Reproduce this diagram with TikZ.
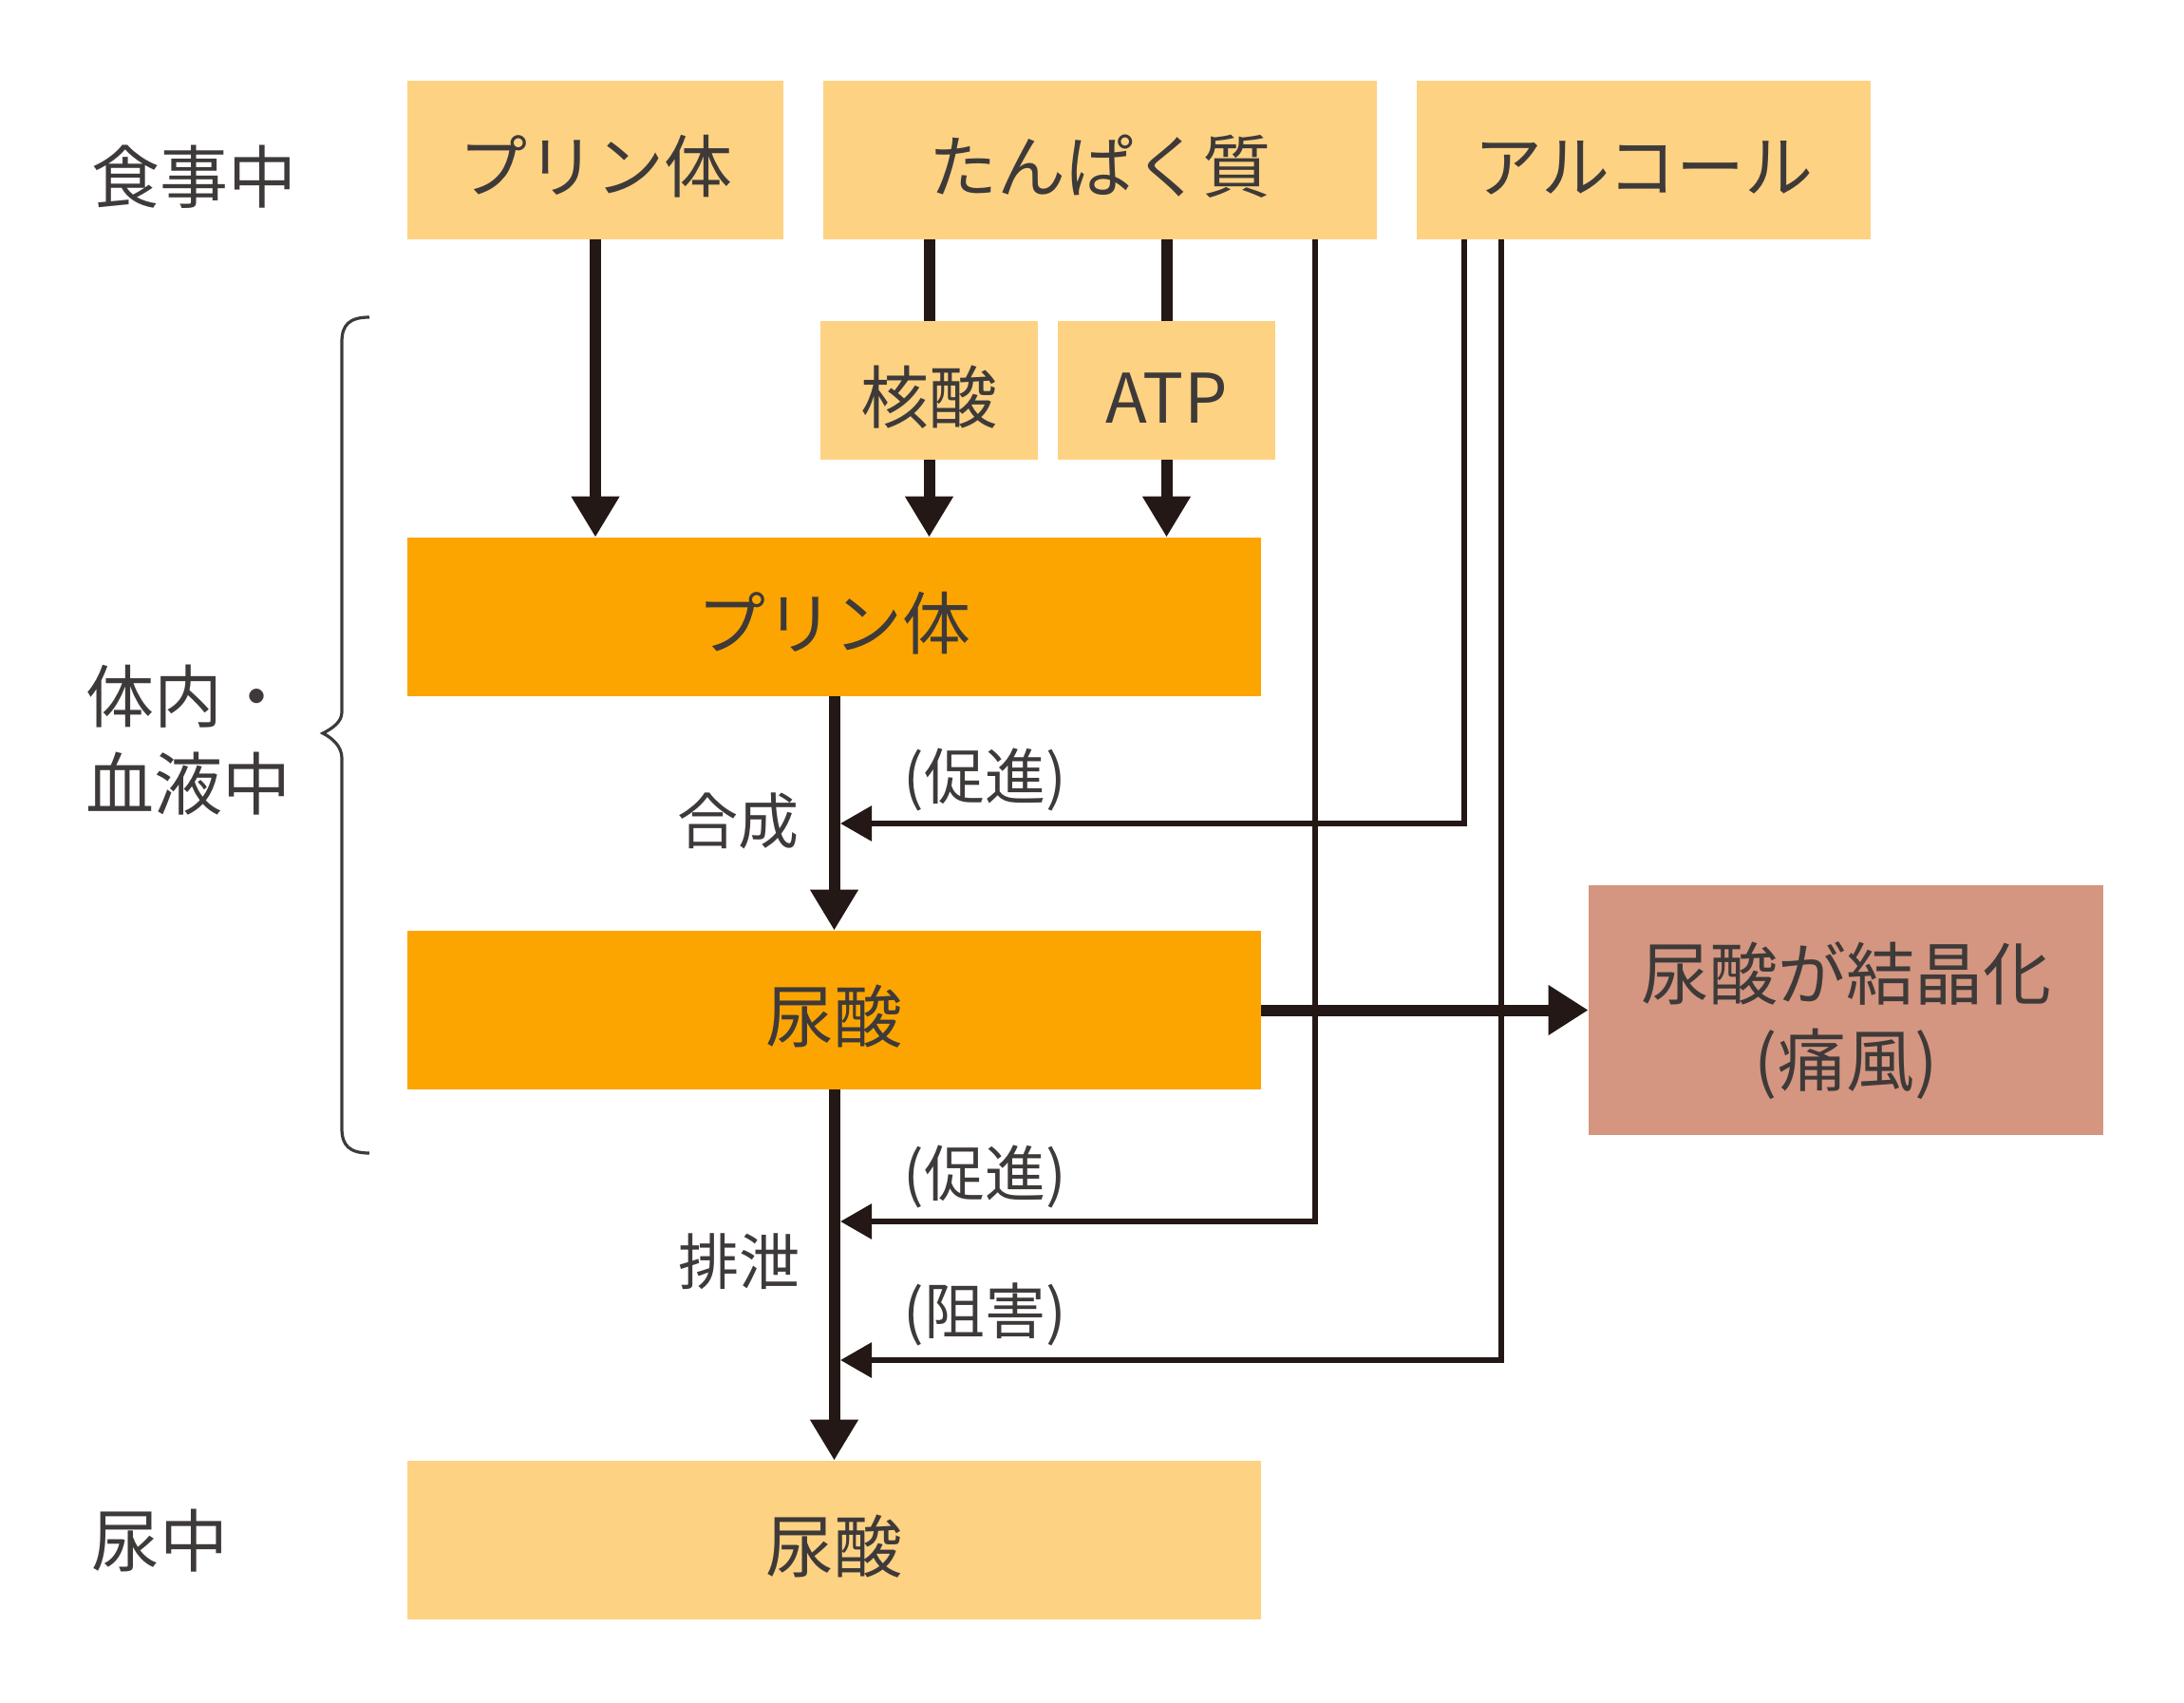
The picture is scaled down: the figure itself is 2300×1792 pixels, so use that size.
\documentclass[tikz,border=0pt]{standalone}
\usepackage{fontspec}
\usepackage{tikz}
\usetikzlibrary{arrows.meta, calc, positioning}
\newfontfamily\jpfont{Noto Sans CJK JP}
\definecolor{foodyellow}{RGB}{253,210,131}
\definecolor{bodyorange}{RGB}{252,165,0}
\definecolor{goutpink}{RGB}{212,150,128}
\definecolor{flowblack}{RGB}{35,24,21}
\definecolor{textgray}{RGB}{62,58,57}

\tikzset{
  boxbase/.style={rectangle, inner sep=0pt, text=textgray, font=\jpfont\fontsize{36}{45.5}\selectfont},
  foodbox/.style={boxbase, fill=foodyellow, minimum height=83.5pt, text height=36pt, text depth=2pt},
  bodybox/.style={boxbase, fill=bodyorange, minimum height=83.5pt, minimum width=449.5pt, text height=36pt, text depth=2pt},
  goutbox/.style={boxbase, fill=goutpink, align=center, text height=81.2pt, text depth=1.2pt},
  sidelabel/.style={inner sep=0pt, anchor=west, align=left, text=textgray, font=\jpfont\fontsize{36}{46}\selectfont},
  flowlabel/.style={inner sep=0pt, text=textgray, font=\jpfont\fontsize{32}{40}\selectfont},
  mainline/.style={flowblack, line width=6pt},
  mainarrow/.style={mainline, -{Triangle[length=21.5pt, width=24pt]}},
  thinarrow/.style={flowblack, line width=3pt, -{Triangle[length=16.5pt, width=18pt]}}
}

\begin{document}
\begin{tikzpicture}[x=0.5pt, y=-0.5pt]
    \useasboundingbox (0,0) rectangle (2300,1792);

    % Row labels
    \node[sidelabel] (meal) at (96,186) {食事中};
    \node[sidelabel] (body) at (90,779) {体内・\\血液中};
    \node[sidelabel] (urinelbl) at (96,1622) {尿中};
    \draw[textgray, line width=1.6pt] (389,334) .. controls (368,334) and (360,342) .. (360,360)
        -- (360,750) .. controls (360,760) and (350,767) .. (340,772)
        .. controls (350,777) and (360,786) .. (360,798)
        -- (360,1188) .. controls (360,1206) and (368,1214) .. (389,1214);

    % Food intake
    \node[foodbox, minimum width=198pt] (foodpurine) at (627,168.5) {プリン体};
    \node[foodbox, minimum width=291.5pt] (foodprotein) at (1158.5,168.5) {たんぱく質};
    \node[foodbox, minimum width=239pt] (foodalcohol) at (1731,168.5) {アルコール};
    \node[foodbox, minimum width=114.5pt, minimum height=73pt] (nucleic) at (978.5,411) {核酸};
    \node[foodbox, minimum width=114.5pt, minimum height=73pt] (atp) at (1228.5,411) {ATP};

    % Body / blood
    \node[bodybox] (purine) at (878.5,649.5) {プリン体};
    \node[bodybox] (uric) at (878.5,1063.5) {尿酸};
    \node[goutbox, minimum width=271pt, minimum height=131.5pt] (gout) at (1944,1063.5) {尿酸が結晶化\\(痛風)};

    % Urine
    \node[foodbox, minimum width=449.5pt] (urine) at (878.5,1621.5) {尿酸};

    % Main flow
    \draw[mainarrow] (foodpurine.south) -- (foodpurine.south |- purine.north);
    \draw[mainline] (nucleic.north |- foodprotein.south) -- (nucleic.north);
    \draw[mainline] (atp.north |- foodprotein.south) -- (atp.north);
    \draw[mainarrow] (nucleic.south) -- (nucleic.south |- purine.north);
    \draw[mainarrow] (atp.south) -- (atp.south |- purine.north);
    \draw[mainarrow] (purine.south) -- (uric.north);
    \draw[mainarrow] (uric.south) -- (urine.north);
    \draw[mainline, -{Triangle[length=21pt, width=25pt]}] (uric.east) -- (gout.west);

    % Side effects on synthesis / excretion
    \coordinate (synthin) at (885,867);
    \coordinate (excrin) at (885,1286);
    \coordinate (inhibin) at (885,1432);
    \draw[thinarrow] (foodalcohol.south west) ++(50,0) |- (synthin);
    \draw[thinarrow] (foodprotein.south east) ++(-65,0) |- (excrin);
    \draw[thinarrow] (foodalcohol.south west) ++(89,0) |- (inhibin);

    \node[flowlabel] (synthlbl) at (777,864) {合成};
    \node[flowlabel] (excrlbl) at (778,1328) {排泄};
    \node[flowlabel] (promlbla) at (1037,821) {(促進)};
    \node[flowlabel] (promlblb) at (1037,1239) {(促進)};
    \node[flowlabel] (inhiblbl) at (1037,1384) {(阻害)};
\end{tikzpicture}
\end{document}
